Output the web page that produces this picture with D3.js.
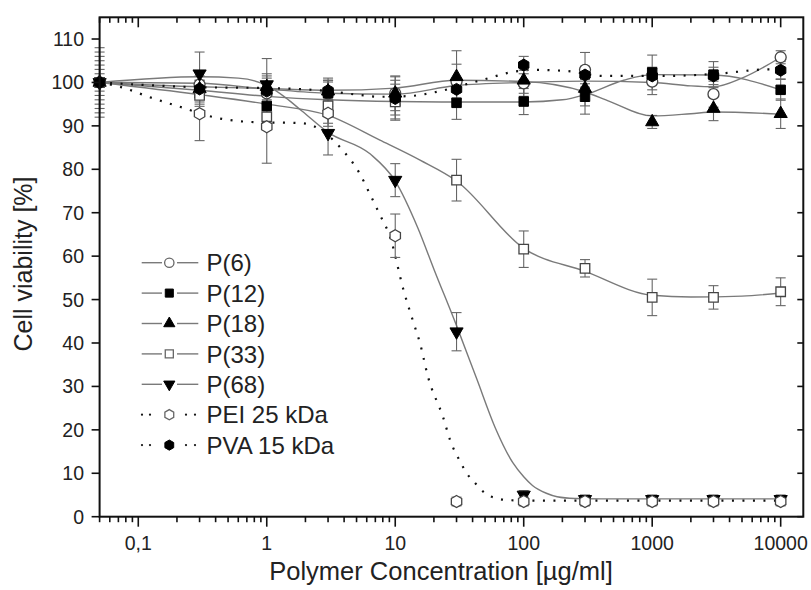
<!DOCTYPE html>
<html><head><meta charset="utf-8">
<script src="https://cdn.jsdelivr.net/npm/d3@7"></script>
<style>html,body{margin:0;padding:0;background:#fff;} svg{display:block;}</style>
</head><body>
<script>
// ---------- data ----------
const conc = [0.05, 0.3, 1, 3, 10, 30, 100, 300, 1000, 3000, 10000];
const p6    = [100, 99.5, 97.5, 97.5, 97.5, 100.2, 99.8, 102.9, 100.2, 97.3, 105.8];
const p6Err = [8, 3, 4, 3, 4, 4, 3, 4, 3, 3, 1.5];
const p12    = [100, 97.5, 94.6, 97.5, 95.6, 95.3, 95.6, 96.7, 102.3, 101.8, 98.3];
const p12Err = [5, 3, 4, 3, 4, 3.8, 3, 4, 4, 3, 2.4];
const p18    = [100, 98.5, 99, 98, 97.5, 101.3, 100.5, 98.6, 90.9, 94.0, 92.8];
const p18Err = [3, 3, 3, 3, 3, 6, 3, 4, 1.5, 2.8, 3.4];
const p33    = [100, 97, 92.1, 94.6, 95.5, 77.5, 61.6, 57.2, 50.5, 50.5, 51.8];
const p33Err = [6, 2, 3, 4, 3, 4.8, 4.2, 2, 4.2, 2.7, 3.2];
const p68    = [100, 102, 99.5, 88.3, 77.5, 42.6, 5, 4, 4, 4, 4];
const p68Err = [7, 5, 6, 5, 3.8, 4.4, 1, 1, 1, 1, 1];
const pei    = [100, 92.8, 89.8, 92.9, 64.7, 3.5, 3.5, 3.5, 3.5, 3.5, 3.5];
const peiErr = [4, 6.2, 8.4, 3, 5, 1, 1, 1, 1, 1, 1];
const pva    = [100, 98.5, 98, 98.1, 96.3, 98.4, 104, 101.7, 101.5, 101.5, 102.8];
const pvaErr = [2, 2, 3, 2, 5, 2, 2, 2, 2, 2, 2];

// fitted curves
const p6FitX  = [0.05, 0.3, 1, 3, 10, 30, 100, 300, 1000, 2000, 3000, 5000, 10000];
const p6FitY  = [100, 99.8, 98.5, 97.5, 97.3, 99.3, 100, 100.3, 100, 99.2, 99, 101, 105.8];
const p12FitX = [0.05, 0.3, 1, 3, 10, 30, 100, 200, 300, 600, 1000, 3000, 10000];
const p12FitY = [100, 98.2, 96.8, 96, 95.6, 95.5, 95.5, 96, 97.2, 100.5, 101.8, 101.7, 98.3];
const p18FitX = [0.05, 0.3, 1, 3, 10, 30, 100, 300, 470, 1000, 2000, 3000, 10000];
const p18FitY = [100, 99, 98.6, 98.2, 98.7, 100.5, 100.2, 97.8, 95.6, 92.3, 92.8, 93.2, 92.7];
const p33FitX = [0.05, 0.3, 1, 3, 7.6, 15.6, 30, 100, 300, 1000, 2000, 5000, 10000];
const p33FitY = [100, 97.2, 95, 92.4, 86.7, 82.1, 77.3, 61.8, 56.5, 51, 50.6, 50.8, 51.5];
const p68FitX = [0.05, 0.3, 0.6, 1, 1.4, 1.9, 3, 6.4, 10, 15, 20, 30, 43, 60, 82, 100, 117, 150, 182, 250, 400, 10000];
const p68FitY = [100, 101.3, 101, 99.3, 96.5, 93.3, 88.5, 83.5, 77.3, 66.5, 57, 44, 31.8, 20.5, 12.5, 9.2, 7.2, 5.4, 4.6, 4.2, 4.1, 4.1];
const peiFitX = [0.05, 0.08, 0.12, 0.2, 0.43, 0.75, 1.9, 2.3, 3.3, 4, 5.2, 6.4, 7.6, 9.1, 11.6, 13.8, 15.6, 18, 23.7, 26.7, 32, 36, 42, 50, 62, 78, 150, 10000];
const peiFitY = [100, 98.6, 96.7, 94.6, 91.7, 90.9, 90.6, 90.0, 86.7, 84.0, 79.4, 74.1, 69.5, 64.5, 52.2, 44.9, 39.9, 32.2, 22.7, 17.7, 12.7, 10, 7.7, 5.4, 4.2, 3.8, 3.7, 3.7];
const pvaFitX = [0.05, 0.3, 1, 2, 3, 5, 7.5, 13.4, 20, 36, 55, 78, 120, 220, 420, 1300, 3500, 7800, 10000];
const pvaFitY = [100, 98.9, 98.7, 98.4, 98.0, 97.2, 96.7, 96.9, 97.7, 99.6, 101.1, 102.3, 102.9, 102.6, 101.5, 101.5, 102.1, 103.0, 103.0];

const seriesNames = ["P(6)", "P(12)", "P(18)", "P(33)", "P(68)", "PEI 25 kDa", "PVA 15 kDa"];
const xTickValues = [0.1, 1, 10, 100, 1000, 10000];
const xTickLabels = ["0,1", "1", "10", "100", "1000", "10000"];
const yTickValues = [0, 10, 20, 30, 40, 50, 60, 70, 80, 90, 100, 110];
const xTitle = "Polymer Concentration [\u00b5g/ml]";
const yTitle = "Cell viability [%]";

// ---------- layout ----------
const W = 811, H = 590;
const x = d3.scaleLog().domain([0.05, 15000]).range([99.6, 803.3]);
const y = d3.scaleLinear().domain([0, 115]).range([516.7, 17.3]);

const svg = d3.select("body").append("svg").attr("width", W).attr("height", H)
  .style("font-family", "Arial, 'Liberation Sans', Helvetica, sans-serif");

const hexPath = r => { const p = []; for (let i = 0; i < 6; i++) { const a = Math.PI / 180 * (60 * i - 90); p.push([r * Math.cos(a), r * Math.sin(a)]); } return "M" + p.map(d => d.join(",")).join("L") + "Z"; };
const shapes = {
  circle: s => d3.symbol(d3.symbolCircle, 95 * s * s)(),
  square: s => d3.symbol(d3.symbolSquare, 90 * s * s)(),
  triUp: s => d3.symbol(d3.symbolTriangle, 75 * s * s)(),
  triDown: s => d3.symbol(d3.symbolTriangle, 75 * s * s)(),
  hex: s => hexPath(6 * s)
};

const series = [
  {name: seriesNames[0], v: p6,  e: p6Err,  fx: p6FitX,  fy: p6FitY,  shape: "circle",  filled: false, dotted: false},
  {name: seriesNames[1], v: p12, e: p12Err, fx: p12FitX, fy: p12FitY, shape: "square",  filled: true,  dotted: false},
  {name: seriesNames[2], v: p18, e: p18Err, fx: p18FitX, fy: p18FitY, shape: "triUp",   filled: true,  dotted: false},
  {name: seriesNames[3], v: p33, e: p33Err, fx: p33FitX, fy: p33FitY, shape: "square",  filled: false, dotted: false},
  {name: seriesNames[4], v: p68, e: p68Err, fx: p68FitX, fy: p68FitY, shape: "triDown", filled: true,  dotted: false},
  {name: seriesNames[5], v: pei, e: peiErr, fx: peiFitX, fy: peiFitY, shape: "hex",     filled: false, dotted: true},
  {name: seriesNames[6], v: pva, e: pvaErr, fx: pvaFitX, fy: pvaFitY, shape: "hex",     filled: true,  dotted: true}
];

const lineGray = "#7a7a7a", openStroke = "#444", errColor = "#666";

function styleLine(sel, s) {
  if (s.dotted) sel.attr("stroke", "#111").attr("stroke-width", 2.2).attr("stroke-dasharray", "2 8.5");
  else sel.attr("stroke", lineGray).attr("stroke-width", 1.4);
}
function drawMarker(g, s, scale, cx, cy, legend) {
  const p = g.append("path").attr("d", shapes[s.shape](scale))
    .attr("transform", `translate(${cx},${cy})` + (s.shape === "triDown" ? " rotate(180)" : ""));
  if (s.filled) p.attr("fill", "#000").attr("stroke", "#000").attr("stroke-width", 1);
  else p.attr("fill", "#fff").attr("stroke", legend ? "#666" : openStroke).attr("stroke-width", 1.3);
}

// fit curves
const gLines = svg.append("g");
series.forEach(s => {
  const pts = s.fx.map((cx, i) => [x(cx), y(s.fy[i])]);
  const p = gLines.append("path").attr("d", d3.line().curve(d3.curveMonotoneX)(pts)).attr("fill", "none");
  styleLine(p, s);
});

// error bars
const gErr = svg.append("g").attr("stroke", errColor).attr("stroke-width", 1.1);
series.forEach(s => {
  conc.forEach((c, i) => {
    const cx = x(c), y1 = y(s.v[i] + s.e[i]), y2 = y(s.v[i] - s.e[i]);
    gErr.append("line").attr("x1", cx).attr("x2", cx).attr("y1", y1).attr("y2", y2);
    gErr.append("line").attr("x1", cx - 5).attr("x2", cx + 5).attr("y1", y1).attr("y2", y1);
    gErr.append("line").attr("x1", cx - 5).attr("x2", cx + 5).attr("y1", y2).attr("y2", y2);
  });
});

// markers
const gM = svg.append("g");
series.forEach(s => conc.forEach((c, i) => drawMarker(gM, s, 1, x(c), y(s.v[i]), false)));

// ---------- axes ----------
const minorX = [];
for (let e = -2; e <= 4; e++) for (let m = 1; m <= 9; m++) { const v = m * Math.pow(10, e); if (v >= 0.05 && v <= 15000) minorX.push(v); }
const axisColor = "#111";
const gAx = svg.append("g");
gAx.append("rect").attr("x", x.range()[0]).attr("y", y.range()[1])
  .attr("width", x.range()[1] - x.range()[0]).attr("height", y.range()[0] - y.range()[1])
  .attr("fill", "none").attr("stroke", axisColor).attr("stroke-width", 2);

const isMajor = v => xTickValues.some(t => Math.abs(t - v) / t < 1e-9);
gAx.selectAll(".bt").data(minorX).join("line")
  .attr("x1", d => x(d)).attr("x2", d => x(d))
  .attr("y1", y.range()[0]).attr("y2", d => y.range()[0] + (isMajor(d) ? 10 : 5.5))
  .attr("stroke", axisColor).attr("stroke-width", 1.6);
gAx.selectAll(".tt").data(minorX).join("line")
  .attr("x1", d => x(d)).attr("x2", d => x(d))
  .attr("y1", y.range()[1]).attr("y2", d => y.range()[1] + (isMajor(d) ? 10 : 5.5))
  .attr("stroke", axisColor).attr("stroke-width", 1.6);
gAx.selectAll(".xl").data(xTickValues).join("text")
  .attr("x", d => x(d)).attr("y", 550).attr("text-anchor", "middle")
  .attr("font-size", 19.5).attr("fill", "#222").text((d, i) => xTickLabels[i]);
gAx.selectAll(".yt").data(yTickValues).join("line")
  .attr("x1", x.range()[0] - 8).attr("x2", x.range()[0]).attr("y1", d => y(d)).attr("y2", d => y(d))
  .attr("stroke", axisColor).attr("stroke-width", 1.6);
gAx.selectAll(".yr").data(yTickValues).join("line")
  .attr("x1", x.range()[1] - 6).attr("x2", x.range()[1]).attr("y1", d => y(d)).attr("y2", d => y(d))
  .attr("stroke", axisColor).attr("stroke-width", 1.6);
gAx.selectAll(".yl").data(yTickValues).join("text")
  .attr("x", 84).attr("y", d => y(d)).attr("dy", "0.36em").attr("text-anchor", "end")
  .attr("font-size", 19.5).attr("fill", "#222").text(d => d);

// titles
svg.append("text").attr("x", 441).attr("y", 580).attr("text-anchor", "middle")
  .attr("font-size", 25.5).attr("fill", "#222").text(xTitle);
svg.append("text").attr("transform", "translate(32,264) rotate(-90)").attr("text-anchor", "middle")
  .attr("font-size", 25).attr("fill", "#222").text(yTitle);

// ---------- legend ----------
const gL = svg.append("g");
series.forEach((s, i) => {
  const cy = 262.7 + i * 30.4;
  if (s.dotted) {
    [142, 150, 186, 195].forEach(dx => gL.append("circle").attr("cx", dx).attr("cy", cy).attr("r", 1.1).attr("fill", "#111"));
  } else {
    gL.append("line").attr("x1", 141.7).attr("x2", 162).attr("y1", cy).attr("y2", cy).attr("stroke", lineGray).attr("stroke-width", 1.4);
    gL.append("line").attr("x1", 177).attr("x2", 198.3).attr("y1", cy).attr("y2", cy).attr("stroke", lineGray).attr("stroke-width", 1.4);
  }
  drawMarker(gL, s, 0.85, 169.3, cy, true);
  gL.append("text").attr("x", 206.5).attr("y", cy).attr("dy", "0.36em")
    .attr("font-size", 24).attr("fill", "#222").text(s.name);
});
</script>
</body></html>
